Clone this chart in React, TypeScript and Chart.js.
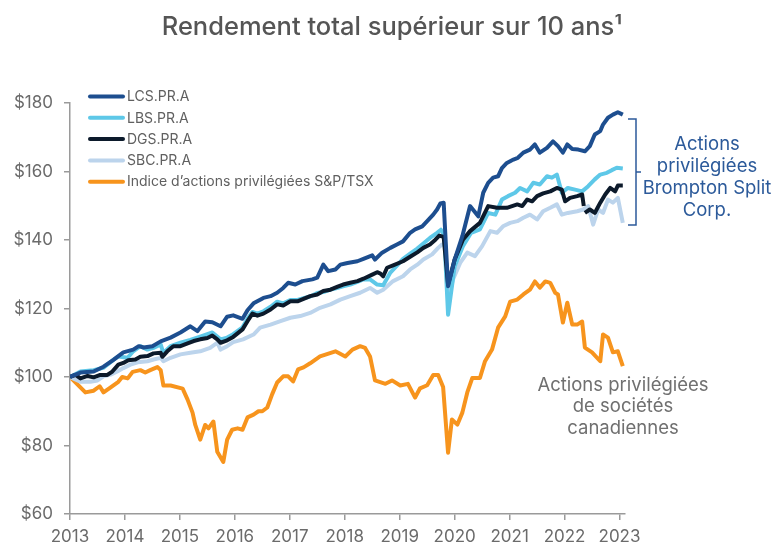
import React, { useEffect, useRef } from "react";
import { Chart, registerables } from "chart.js";

Chart.register(...registerables);

const TITLE = "Rendement total supérieur sur 10 ans¹";
const SERIES_NAMES = [
  "LCS.PR.A",
  "LBS.PR.A",
  "DGS.PR.A",
  "SBC.PR.A",
  "Indice d’actions privilégiées S&P/TSX",
];
const SERIES_COLORS = ["#1d4e8f", "#5ec8e8", "#0c1a2b", "#bcd4ec", "#f7941d"];
const SERIES_ORDER = [1, 3, 2, 4, 5];

const YEAR_TICKS = [2013, 2014, 2015, 2016, 2017, 2018, 2019, 2020, 2021, 2022, 2023];
const VALUE_TICKS = [60, 80, 100, 120, 140, 160, 180];

const BROMPTON_NOTE = ["Actions", "privilégiées", "Brompton Split", "Corp."];
const CANADIAN_NOTE = ["Actions privilégiées", "de sociétés", "canadiennes"];

// LCS.PR.A
const LCS_X = [2013, 2013.19, 2013.43, 2013.61, 2013.79, 2013.97, 2014.15, 2014.25, 2014.34, 2014.5, 2014.65, 2014.83, 2015.01, 2015.19, 2015.32, 2015.46, 2015.59, 2015.74, 2015.86, 2015.97, 2016.14, 2016.23, 2016.34, 2016.52, 2016.65, 2016.77, 2016.88, 2016.97, 2017.1, 2017.23, 2017.41, 2017.5, 2017.61, 2017.7, 2017.83, 2017.92, 2018.05, 2018.23, 2018.34, 2018.5, 2018.55, 2018.68, 2018.83, 2018.95, 2019.06, 2019.19, 2019.28, 2019.41, 2019.5, 2019.61, 2019.68, 2019.74, 2019.8, 2019.88, 2020.0, 2020.14, 2020.28, 2020.43, 2020.52, 2020.61, 2020.7, 2020.79, 2020.86, 2020.95, 2021.07, 2021.15, 2021.25, 2021.37, 2021.46, 2021.55, 2021.68, 2021.79, 2021.88, 2021.97, 2022.05, 2022.14, 2022.25, 2022.37, 2022.46, 2022.55, 2022.65, 2022.7, 2022.79, 2022.88, 2022.97, 2023.06];
const LCS_Y = [100, 101.3, 101.6, 103, 105, 107.2, 108, 109, 108.6, 109, 110.4, 111.5, 113, 114.8, 113.4, 116.2, 116, 114.8, 117.6, 118, 117, 119.5, 121.5, 123.1, 123.6, 124.6, 126, 127.5, 127, 128, 128.5, 129, 132.8, 130.9, 131.4, 132.8, 133.3, 133.8, 134.5, 135.5, 134.3, 136.3, 137.7, 138.7, 139.6, 142.1, 143.1, 144, 145.5, 147.4, 148.9, 150.7, 150.9, 126.5, 134.3, 141.1, 149.9, 146.9, 153.8, 156.7, 158.2, 158.6, 161, 162.5, 163.5, 164, 165.5, 166.4, 167.9, 165.5, 166.9, 168.8, 167.4, 165.5, 167.9, 166.6, 166.4, 165.9, 167.4, 170.8, 171.8, 173.7, 175.7, 176.6, 177.3, 176.6];

// LBS.PR.A
const LBS_X = [2013, 2013.19, 2013.43, 2013.61, 2013.79, 2013.88, 2014.05, 2014.15, 2014.28, 2014.41, 2014.52, 2014.65, 2014.7, 2014.83, 2015.01, 2015.19, 2015.37, 2015.59, 2015.74, 2015.86, 2015.97, 2016.14, 2016.23, 2016.32, 2016.41, 2016.52, 2016.65, 2016.77, 2016.88, 2017.01, 2017.14, 2017.25, 2017.37, 2017.5, 2017.61, 2017.74, 2017.86, 2017.97, 2018.1, 2018.23, 2018.34, 2018.46, 2018.59, 2018.7, 2018.83, 2018.95, 2019.06, 2019.19, 2019.32, 2019.43, 2019.55, 2019.68, 2019.75, 2019.81, 2019.88, 2020.0, 2020.15, 2020.3, 2020.46, 2020.61, 2020.74, 2020.86, 2020.97, 2021.1, 2021.19, 2021.32, 2021.43, 2021.55, 2021.68, 2021.77, 2021.86, 2021.95, 2022.06, 2022.19, 2022.32, 2022.43, 2022.55, 2022.65, 2022.77, 2022.86, 2022.95, 2023.06];
const LBS_Y = [100, 101.6, 102, 102.7, 105, 106, 105.6, 107.5, 109, 108, 108.5, 109.5, 107, 109, 110, 110.8, 111.8, 113, 111, 111.5, 112.5, 114.5, 117, 119, 118.5, 119.2, 120.5, 122, 121.5, 122.5, 122.5, 123, 123.5, 124.5, 124.8, 125.5, 126, 126.5, 127, 127.8, 128.5, 128.5, 127, 126.8, 130.5, 132.5, 134.5, 136, 137.5, 139, 140.6, 142.1, 143, 141.5, 118.2, 132.3, 138.2, 142.1, 143.1, 147.9, 147.4, 151.8, 152.8, 153.8, 155.2, 154.2, 156.7, 156.2, 158.6, 158.2, 159.1, 153.8, 155.2, 154.7, 154.2, 155.7, 157.7, 159.1, 159.6, 160.4, 161.1, 160.9];

// DGS.PR.A (gap in late 2022)
const DGS_X = [2013, 2013.1, 2013.19, 2013.32, 2013.43, 2013.55, 2013.68, 2013.77, 2013.88, 2013.97, 2014.06, 2014.19, 2014.28, 2014.41, 2014.52, 2014.65, 2014.68, 2014.77, 2014.88, 2015.01, 2015.14, 2015.25, 2015.37, 2015.5, 2015.59, 2015.68, 2015.74, 2015.86, 2015.97, 2016.14, 2016.23, 2016.32, 2016.41, 2016.52, 2016.65, 2016.77, 2016.88, 2017.01, 2017.14, 2017.25, 2017.37, 2017.5, 2017.61, 2017.74, 2017.86, 2017.97, 2018.1, 2018.23, 2018.34, 2018.5, 2018.59, 2018.65, 2018.7, 2018.77, 2018.88, 2019.06, 2019.19, 2019.32, 2019.43, 2019.55, 2019.65, 2019.72, 2019.8, 2019.88, 2020.0, 2020.15, 2020.28, 2020.46, 2020.61, 2020.77, 2020.95, 2021.14, 2021.23, 2021.32, 2021.41, 2021.5, 2021.61, 2021.74, 2021.86, 2021.95, 2022.01, 2022.1, 2022.23, 2022.32, 2022.35, 2022.36, 2022.37, 2022.46, 2022.55, 2022.65, 2022.74, 2022.83, 2022.92, 2022.97, 2023.06];
const DGS_Y = [100, 100.6, 99.6, 100.3, 99.9, 100.6, 100.6, 101.6, 103.6, 104.1, 104.9, 105.1, 105.9, 106.1, 106.9, 107.1, 105.9, 107.5, 109, 109, 109.8, 110.5, 111, 111.4, 112.1, 111, 110, 110.7, 111.7, 113.9, 116.3, 118.5, 117.9, 118.5, 119.7, 121.2, 120.9, 122.1, 122.1, 122.8, 123.6, 124.1, 125.1, 125.5, 126.3, 127, 127.5, 128, 128.7, 129.9, 130.6, 130.2, 129.4, 131.9, 132.6, 133.8, 135.1, 136.4, 137.7, 138.7, 140.1, 141.3, 140.9, 127, 134.3, 140.1, 142.6, 145, 149.9, 149.4, 149.4, 150.4, 149.9, 151.8, 151.3, 152.8, 153.6, 154.2, 155.2, 154.7, 151.3, 152.3, 152.8, 153.3, 149.9, null, 147.9, 148.9, 147.9, 150.9, 153.3, 155.2, 154.2, 155.9, 155.9];

// SBC.PR.A
const SBC_X = [2013, 2013.19, 2013.37, 2013.5, 2013.61, 2013.74, 2013.86, 2013.97, 2014.1, 2014.23, 2014.41, 2014.52, 2014.65, 2014.7, 2014.83, 2015.01, 2015.19, 2015.37, 2015.55, 2015.68, 2015.74, 2015.86, 2015.97, 2016.15, 2016.34, 2016.46, 2016.65, 2016.83, 2017.01, 2017.19, 2017.37, 2017.55, 2017.74, 2017.92, 2018.1, 2018.28, 2018.46, 2018.59, 2018.7, 2018.88, 2019.06, 2019.19, 2019.32, 2019.43, 2019.59, 2019.7, 2019.77, 2019.83, 2019.88, 2019.97, 2020.1, 2020.23, 2020.37, 2020.5, 2020.65, 2020.77, 2020.88, 2021.01, 2021.14, 2021.25, 2021.37, 2021.5, 2021.61, 2021.74, 2021.86, 2021.95, 2022.06, 2022.23, 2022.34, 2022.43, 2022.52, 2022.61, 2022.7, 2022.79, 2022.88, 2022.97, 2023.06];
const SBC_Y = [100, 98.6, 98.6, 99, 100.2, 100.7, 101.6, 102.6, 103.6, 104.3, 104.6, 105.1, 105.6, 104.6, 105.6, 106.6, 107.1, 107.5, 108.5, 110, 108, 109, 110.2, 111, 112.4, 114.4, 115.3, 116.3, 117.3, 117.8, 118.7, 120.2, 121.2, 122.6, 123.6, 124.6, 126, 124.6, 125.5, 128, 129.4, 131.4, 132.8, 134.3, 135.8, 137.7, 138.7, 138.7, 122.6, 128.5, 133.3, 136.3, 135.3, 138.2, 142.6, 142.1, 144, 145, 145.5, 146.5, 147.4, 146, 148.4, 149.4, 150.4, 147.4, 147.9, 148.4, 148.9, 149.9, 144.5, 148.9, 147.9, 151.8, 150.9, 152.3, 145];

// Indice d'actions privilégiées S&P/TSX
const TSX_X = [2013, 2013.28, 2013.43, 2013.54, 2013.61, 2013.74, 2013.88, 2013.95, 2014.05, 2014.14, 2014.28, 2014.37, 2014.46, 2014.59, 2014.65, 2014.7, 2014.83, 2015.05, 2015.14, 2015.23, 2015.28, 2015.37, 2015.46, 2015.52, 2015.61, 2015.68, 2015.79, 2015.86, 2015.95, 2016.05, 2016.14, 2016.23, 2016.34, 2016.43, 2016.5, 2016.59, 2016.68, 2016.77, 2016.88, 2016.97, 2017.06, 2017.15, 2017.25, 2017.37, 2017.55, 2017.83, 2018.01, 2018.14, 2018.28, 2018.37, 2018.46, 2018.55, 2018.74, 2018.86, 2019.01, 2019.15, 2019.28, 2019.37, 2019.5, 2019.61, 2019.7, 2019.79, 2019.88, 2019.95, 2020.05, 2020.14, 2020.23, 2020.32, 2020.46, 2020.55, 2020.68, 2020.79, 2020.92, 2021.01, 2021.14, 2021.25, 2021.37, 2021.46, 2021.55, 2021.65, 2021.74, 2021.83, 2021.88, 2021.97, 2022.05, 2022.14, 2022.23, 2022.32, 2022.37, 2022.5, 2022.65, 2022.7, 2022.79, 2022.88, 2022.97, 2023.06];
const TSX_Y = [100, 95.5, 96, 97.3, 95.5, 97, 98.6, 100, 99.6, 101.5, 102, 101.3, 102, 102.9, 102, 97.5, 97.5, 96.6, 93.4, 89.6, 86, 81.7, 86, 85, 87, 78.2, 75.2, 81.7, 84.6, 85, 84.6, 88.2, 89, 90, 90, 91.1, 95, 98.4, 100.2, 100.2, 98.7, 102.2, 102.8, 104, 106, 107.5, 106, 108, 109, 108.5, 106, 99, 98, 99, 97.5, 98, 94, 96.7, 97.6, 100.6, 100.6, 97.1, 77.9, 87.6, 86.1, 89.6, 95.5, 99.7, 99.7, 104.5, 108, 114.4, 117.7, 122, 122.6, 124.1, 125.5, 127.9, 126.1, 127.9, 127.5, 124.6, 124.1, 115.9, 121.7, 115.3, 115.3, 116.2, 108.6, 107.2, 104.6, 112.4, 111.5, 107.2, 107.5, 103.2];

const SERIES_X = [LCS_X, LBS_X, DGS_X, SBC_X, TSX_X];
const SERIES_Y = [LCS_Y, LBS_Y, DGS_Y, SBC_Y, TSX_Y];

const FONT = "Inter, 'Noto Sans', sans-serif";

const decorPlugin = {
  id: "decor",
  afterDraw(chart: any) {
    const ctx = chart.ctx as CanvasRenderingContext2D;
    ctx.save();
    // title
    ctx.fillStyle = "#555555";
    ctx.font = `500 25.5px ${FONT}`;
    ctx.textAlign = "center";
    ctx.textBaseline = "middle";
    ctx.fillText(TITLE, 392, 27);

    // legend
    ctx.textAlign = "left";
    ctx.font = `14px ${FONT}`;
    SERIES_NAMES.forEach((name, i) => {
      const y = 96.5 + i * 21.3;
      ctx.strokeStyle = SERIES_COLORS[i];
      ctx.lineWidth = 4;
      ctx.lineCap = "round";
      ctx.beginPath();
      ctx.moveTo(90, y);
      ctx.lineTo(123, y);
      ctx.stroke();
      ctx.fillStyle = "#606060";
      ctx.fillText(name, 127, y + 0.5);
    });

    // Brompton bracket + note
    ctx.strokeStyle = "#2c5a9a";
    ctx.lineWidth = 1.5;
    ctx.lineCap = "butt";
    ctx.beginPath();
    ctx.moveTo(628, 119);
    ctx.lineTo(636, 119);
    ctx.lineTo(636, 225);
    ctx.lineTo(628, 225);
    ctx.moveTo(636, 172);
    ctx.lineTo(641, 172);
    ctx.stroke();
    ctx.fillStyle = "#2c5a9a";
    ctx.font = `18.5px ${FONT}`;
    ctx.textAlign = "center";
    BROMPTON_NOTE.forEach((t, i) => ctx.fillText(t, 707, 144 + i * 22.3));

    // Canadian note
    ctx.fillStyle = "#707070";
    CANADIAN_NOTE.forEach((t, i) => ctx.fillText(t, 623, 385 + i * 21.7));
    ctx.restore();
  },
};

export default function App() {
  const ref = useRef<HTMLCanvasElement | null>(null);
  useEffect(() => {
    if (!ref.current) return;
    const datasets = SERIES_NAMES.map((name, i) => ({
      label: name,
      data: SERIES_X[i].map((x, j) => ({ x, y: SERIES_Y[i][j] })),
      borderColor: SERIES_COLORS[i],
      backgroundColor: SERIES_COLORS[i],
      borderWidth: 4,
      pointRadius: 0,
      tension: 0,
      spanGaps: false,
      borderJoinStyle: "round" as const,
      borderCapStyle: "butt" as const,
      order: SERIES_ORDER[i],
    }));
    const chart = new Chart(ref.current, {
      type: "line",
      data: { datasets },
      options: {
        animation: false,
        responsive: false,
        layout: { padding: { top: 103, right: 156, bottom: 0, left: 0 } },
        plugins: { legend: { display: false }, tooltip: { enabled: false }, title: { display: false } },
        scales: {
          x: {
            type: "linear",
            min: 2013,
            max: 2023.1,
            afterBuildTicks: (s: any) => {
              s.ticks = YEAR_TICKS.map((v) => ({ value: v }));
            },
            afterFit: (s: any) => {
              s.height = 30;
            },
            ticks: {
              color: "#6b6b6b",
              font: { family: FONT, size: 17 },
              padding: 7,
              maxRotation: 0,
              autoSkip: false,
              callback: (v: any) => String(v),
            },
            grid: { display: true, drawOnChartArea: false, drawTicks: true, tickLength: 6, color: "#9a9a9a", lineWidth: 1.5 },
            border: { display: true, color: "#9a9a9a", width: 1.5 },
          },
          y: {
            type: "linear",
            min: 60,
            max: 180,
            afterBuildTicks: (s: any) => {
              s.ticks = VALUE_TICKS.map((v) => ({ value: v }));
            },
            afterFit: (s: any) => {
              s.width = 70;
            },
            ticks: {
              color: "#6b6b6b",
              font: { family: FONT, size: 17 },
              padding: 11,
              callback: (v: any) => "$" + v,
            },
            grid: { display: true, drawOnChartArea: false, drawTicks: true, tickLength: 6, color: "#9a9a9a", lineWidth: 1.5 },
            border: { display: true, color: "#9a9a9a", width: 1.5 },
          },
        },
      },
      plugins: [decorPlugin],
    });
    return () => chart.destroy();
  }, []);
  return (
    <div style={{ position: "fixed", left: 0, top: 0, width: 781, height: 544, background: "#fff" }}>
      <canvas ref={ref} width={781} height={544} style={{ display: "block" }} />
    </div>
  );
}
